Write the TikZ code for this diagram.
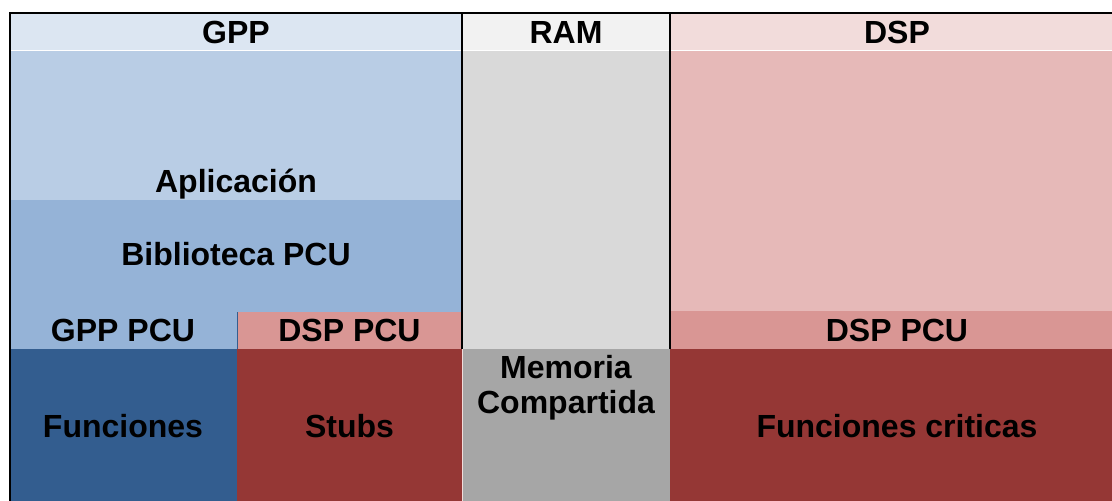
\documentclass[tikz,border=0pt]{standalone}
\usepackage{fontspec}
\setmainfont{Liberation Sans}
\definecolor{gpphead}{HTML}{DCE6F2}
\definecolor{gppapp}{HTML}{B9CDE5}
\definecolor{gpplib}{HTML}{95B3D7}
\definecolor{gppfun}{HTML}{335D8F}
\definecolor{ramhead}{HTML}{F2F2F2}
\definecolor{rambody}{HTML}{D9D9D9}
\definecolor{rammem}{HTML}{A6A6A6}
\definecolor{dsphead}{HTML}{F2DCDB}
\definecolor{dspbody}{HTML}{E6B9B8}
\definecolor{dsppcu}{HTML}{D99694}
\definecolor{dspdark}{HTML}{953735}
\tikzset{
  lbl/.style={anchor=base, font=\fontsize{32}{36}\selectfont\bfseries, inner sep=0pt, text=black},
  border/.style={draw=black, line width=2pt},
  sep/.style={draw=black, line width=1.5pt}
}
\begin{document}
\begin{tikzpicture}[x=1pt,y=-1pt]
\useasboundingbox (0,0) rectangle (1112,501);
% GPP column
\fill[gpphead] (10,13) rectangle (462,50);
\fill[gppapp] (10,50) rectangle (462,200);
\fill[gpplib] (10,200) rectangle (462,312);
\fill[gpplib] (10,312) rectangle (237,349);
\fill[dsppcu] (237,312) rectangle (462,349);
\fill[gppfun] (10,349) rectangle (237,501);
\fill[dspdark] (237,349) rectangle (462,501);
\draw[gppfun, line width=1pt] (237,312) -- (237,349);
% RAM column
\fill[ramhead] (462,13) rectangle (670,50);
\fill[rambody] (462,50) rectangle (670,349);
\fill[rammem] (463,349) rectangle (670,501);
\draw[dsphead, line width=1pt] (462.5,349) -- (462.5,501);
% DSP column
\fill[dsphead] (670,13) rectangle (1112,50);
\fill[dspbody] (670,50) rectangle (1112,311);
\fill[dsppcu] (670,311) rectangle (1112,349);
\fill[dspdark] (670,349) rectangle (1112,501);
% header separator
\draw[white, line width=0.6pt] (10,50.3) -- (1112,50.3);
% borders
\draw[sep] (462,13) -- (462,349);
\draw[sep] (670,13) -- (670,349);
\draw[border] (10,501) -- (10,13) -- (1112,13);
% labels
\node[lbl] (gpp) at (236,43) {GPP};
\node[lbl] (ram) at (566,43) {RAM};
\node[lbl] (dsp) at (897,43) {DSP};
\node[lbl] (app) at (236,192) {Aplicación};
\node[lbl] (lib) at (236,265) {Biblioteca PCU};
\node[lbl] (gpppcu) at (123,341) {GPP PCU};
\node[lbl] (dsppcul) at (349.5,341) {DSP PCU};
\node[lbl] (dsppcur) at (897,341) {DSP PCU};
\node[lbl] (fun) at (123,437) {Funciones};
\node[lbl] (stubs) at (349.5,437) {Stubs};
\node[lbl] (mem1) at (566,378) {Memoria};
\node[lbl] (mem2) at (566,413) {Compartida};
\node[lbl] (crit) at (897,437) {Funciones criticas};
\end{tikzpicture}
\end{document}
